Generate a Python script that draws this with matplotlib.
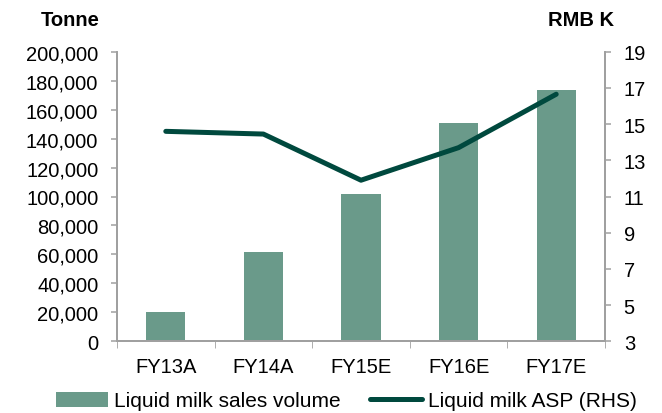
import matplotlib.pyplot as plt
import numpy as np

plt.rcParams['font.family'] = ['Liberation Sans', 'DejaVu Sans']

years = ['FY13A', 'FY14A', 'FY15E', 'FY16E', 'FY17E']
volume = [20500, 62000, 101500, 150500, 173500]   # tonne
asp = [14.6, 14.45, 11.9, 13.7, 16.65]             # RMB K

bar_col = '#6a9a8a'
line_col = '#00493e'
grey = '#a0a0a0'

W, H = 662, 414
fig = plt.figure(figsize=(W / 100, H / 100), dpi=100)
ax = fig.add_axes([117 / W, 1 - 342.3 / H, 488 / W, 289.6 / H])
ax2 = ax.twinx()

x = np.arange(len(years))
ax.bar(x, volume, width=0.40, color=bar_col, label='Liquid milk sales volume')
ax2.plot(x, asp, color=line_col, lw=3.6, solid_capstyle='round',
         label='Liquid milk ASP (RHS)')

ax.set_xlim(-0.5, len(years) - 0.5)
ax.set_ylim(0, 200000)
ax.set_yticks(np.arange(0, 200001, 20000))
ax.set_yticklabels([f'{v:,}' for v in range(0, 200001, 20000)])
ax2.set_ylim(3, 19)
ax2.set_yticks(range(3, 20, 2))

ax.set_xticks(x)
ax.set_xticklabels(years)
ax.set_xticks(np.arange(-0.5, len(years)), minor=True)
ax.tick_params(axis='x', which='major', length=0, pad=11, labelsize=14.5)
ax.tick_params(axis='x', which='minor', length=5, color=grey, direction='out')

for a in (ax, ax2):
    a.spines['top'].set_visible(False)
    for s in ('left', 'right', 'bottom'):
        a.spines[s].set_color(grey)
        a.spines[s].set_linewidth(1.3)
    a.tick_params(axis='y', length=4.5, width=1.1, color=grey, labelsize=14.5, pad=9)

fig.text(100 / W, 1 - 21 / H, 'Tonne', fontsize=14.5, fontweight='bold',
         va='center', ha='right')
fig.text(548 / W, 1 - 21 / H, 'RMB K', fontsize=14.5, fontweight='bold',
         va='center', ha='left')

h1, l1 = ax.get_legend_handles_labels()
h2, l2 = ax2.get_legend_handles_labels()
fig.legend(h1 + h2, l1 + l2, loc='center', bbox_to_anchor=(346.5 / W, 1 - 402 / H),
           ncol=2, frameon=False, fontsize=15, handlelength=2.5,
           handletextpad=0.3, columnspacing=1.4, borderaxespad=0, borderpad=0)

fig.savefig('out.png', dpi=100)
